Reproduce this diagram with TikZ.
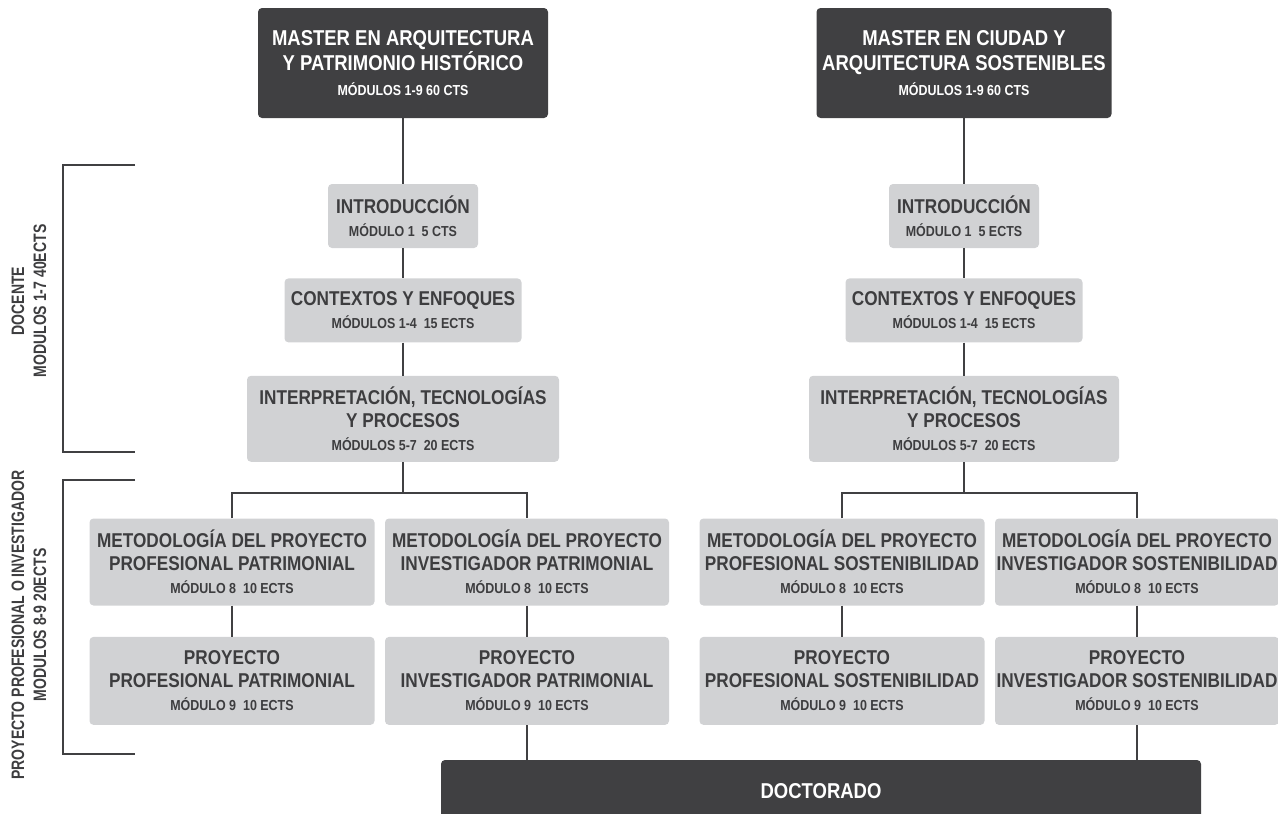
\documentclass[tikz,border=0pt]{standalone}
\usepackage{fontspec}
\setmainfont{Liberation Sans}[FakeStretch=0.86]
\newfontfamily\sidefont{Liberation Sans}[FakeStretch=0.78]
\usetikzlibrary{positioning}

\definecolor{boxdark}{HTML}{404042}
\definecolor{boxgray}{HTML}{D1D2D4}
\definecolor{txtgray}{HTML}{3D3D3F}

\newcommand{\modtxt}[1]{{\fontsize{14.5}{16}\selectfont #1}}

\tikzset{
  darkbox/.style={fill=boxdark, rounded corners=4pt, text=white, align=center,
    inner sep=0pt, font=\bfseries\fontsize{21.5}{25}\selectfont},
  graybox/.style={fill=boxgray, rounded corners=4pt, text=txtgray, align=center,
    inner sep=0pt, font=\bfseries\fontsize{20}{23}\selectfont},
  link/.style={draw=boxdark, line width=1.8pt},
  sidelabel/.style={rotate=90, align=center, text=txtgray,
    font=\sidefont\bfseries\fontsize{18}{22}\selectfont},
}

\begin{document}
\begin{tikzpicture}[x=1pt, y=-1pt]
  \useasboundingbox (0,0) rectangle (1278,814);

  % masters
  \node[darkbox, minimum width=290pt, minimum height=110pt] (lmaster) at (403,63)
    {MASTER EN ARQUITECTURA\\Y PATRIMONIO HISTÓRICO\\\modtxt{MÓDULOS 1-9 60 CTS}};
  \node[darkbox, minimum width=295pt, minimum height=110pt] (rmaster) at (964,63)
    {MASTER EN CIUDAD Y\\ARQUITECTURA SOSTENIBLES\\\modtxt{MÓDULOS 1-9 60 CTS}};

  % left column
  \node[graybox, minimum width=150pt, minimum height=64pt] (lintro) at (403,216)
    {INTRODUCCIÓN\\\modtxt{MÓDULO 1~~5 CTS}};
  \node[graybox, minimum width=237pt, minimum height=64pt, below=30pt of lintro] (lctx)
    {CONTEXTOS Y ENFOQUES\\\modtxt{MÓDULOS 1-4~~15 ECTS}};
  \node[graybox, minimum width=312pt, minimum height=86pt, below=33pt of lctx] (linterp)
    {INTERPRETACIÓN, TECNOLOGÍAS\\Y PROCESOS\\\modtxt{MÓDULOS 5-7~~20 ECTS}};

  \node[graybox, minimum width=285pt, minimum height=87pt] (lmet1) at (232,562)
    {METODOLOGÍA DEL PROYECTO\\PROFESIONAL PATRIMONIAL\\\modtxt{MÓDULO 8~~10 ECTS}};
  \node[graybox, minimum width=284pt, minimum height=87pt] (lmet2) at (527,562)
    {METODOLOGÍA DEL PROYECTO\\INVESTIGADOR PATRIMONIAL\\\modtxt{MÓDULO 8~~10 ECTS}};
  \node[graybox, minimum width=285pt, minimum height=88pt, below=31pt of lmet1] (lpro1)
    {PROYECTO\\PROFESIONAL PATRIMONIAL\\\modtxt{MÓDULO 9~~10 ECTS}};
  \node[graybox, minimum width=284pt, minimum height=88pt, below=31pt of lmet2] (lpro2)
    {PROYECTO\\INVESTIGADOR PATRIMONIAL\\\modtxt{MÓDULO 9~~10 ECTS}};

  % right column
  \node[graybox, minimum width=150pt, minimum height=64pt] (rintro) at (964,216)
    {INTRODUCCIÓN\\\modtxt{MÓDULO 1~~5 ECTS}};
  \node[graybox, minimum width=237pt, minimum height=64pt, below=30pt of rintro] (rctx)
    {CONTEXTOS Y ENFOQUES\\\modtxt{MÓDULOS 1-4~~15 ECTS}};
  \node[graybox, minimum width=310pt, minimum height=86pt, below=33pt of rctx] (rinterp)
    {INTERPRETACIÓN, TECNOLOGÍAS\\Y PROCESOS\\\modtxt{MÓDULOS 5-7~~20 ECTS}};

  \node[graybox, minimum width=285pt, minimum height=87pt] (rmet1) at (842,562)
    {METODOLOGÍA DEL PROYECTO\\PROFESIONAL SOSTENIBILIDAD\\\modtxt{MÓDULO 8~~10 ECTS}};
  \node[graybox, minimum width=284pt, minimum height=87pt] (rmet2) at (1137,562)
    {METODOLOGÍA DEL PROYECTO\\INVESTIGADOR SOSTENIBILIDAD\\\modtxt{MÓDULO 8~~10 ECTS}};
  \node[graybox, minimum width=285pt, minimum height=88pt, below=31pt of rmet1] (rpro1)
    {PROYECTO\\PROFESIONAL SOSTENIBILIDAD\\\modtxt{MÓDULO 9~~10 ECTS}};
  \node[graybox, minimum width=284pt, minimum height=88pt, below=31pt of rmet2] (rpro2)
    {PROYECTO\\INVESTIGADOR SOSTENIBILIDAD\\\modtxt{MÓDULO 9~~10 ECTS}};

  \node[darkbox, minimum width=760pt, minimum height=62pt] (doc) at (821,791) {DOCTORADO};

  % links
  \coordinate (lsplit) at (403,493);
  \coordinate (rsplit) at (964,493);
  \draw[link] (lmaster) -- (lintro);
  \draw[link] (lintro) -- (lctx);
  \draw[link] (lctx) -- (linterp);
  \draw[link] (linterp) -- (lsplit);
  \draw[link] (lmet1) |- (lsplit) -| (lmet2);
  \draw[link] (lmet1) -- (lpro1);
  \draw[link] (lmet2) -- (lpro2);
  \draw[link] (lpro2.south) -- (lpro2.south |- doc.north);

  \draw[link] (rmaster) -- (rintro);
  \draw[link] (rintro) -- (rctx);
  \draw[link] (rctx) -- (rinterp);
  \draw[link] (rinterp) -- (rsplit);
  \draw[link] (rmet1) |- (rsplit) -| (rmet2);
  \draw[link] (rmet1) -- (rpro1);
  \draw[link] (rmet2) -- (rpro2);
  \draw[link] (rpro2.south) -- (rpro2.south |- doc.north);

  % brackets
  \draw[link] (135,165) -| (63,452) -- (135,452);
  \draw[link] (135,480) -| (63,754) -- (135,754);
  \node[sidelabel] (docente) at (29,301) {DOCENTE\\MODULOS 1-7 40ECTS};
  \node[sidelabel] (proyecto) at (29,625) {PROYECTO PROFESIONAL O INVESTIGADOR\\MODULOS 8-9 20ECTS};
\end{tikzpicture}
\end{document}
